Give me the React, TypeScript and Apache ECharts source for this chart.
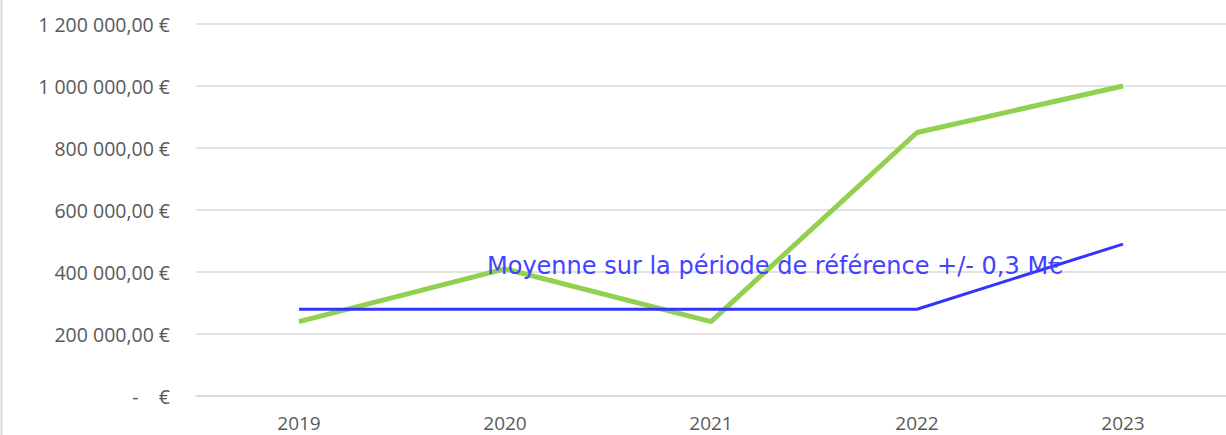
import React, { useEffect, useRef } from "react";
import * as echarts from "echarts";

const categories = ["2019", "2020", "2021", "2022", "2023"];
const actualValues = [240000, 410000, 240000, 850000, 1000000];
const referenceValues = [280000, 280000, 280000, 280000, 490000];
const yTicks = [0, 200000, 400000, 600000, 800000, 1000000, 1200000];
const annotation = "Moyenne sur la période de référence +/- 0,3 M€";

function formatEuro(v: number): string {
  if (v === 0) return "-    €";
  const s = Math.round(v).toString().replace(/\B(?=(\d{3})+(?!\d))/g, " ");
  return s + ",00 €";
}

export default function App() {
  const ref = useRef<HTMLDivElement>(null);
  useEffect(() => {
    if (!ref.current) return;
    const chart = echarts.init(ref.current, null, { renderer: "svg" });
    chart.setOption({
      animation: false,
      backgroundColor: "#ffffff",
      grid: { left: 196, width: 1034, top: 24, bottom: 39, containLabel: false },
      xAxis: {
        type: "category",
        data: categories,
        boundaryGap: true,
        axisLine: { show: true, lineStyle: { color: "#d9d9d9", width: 1.5 } },
        axisTick: { show: false },
        axisLabel: { color: "#595959", fontSize: 19, fontFamily: "Open Sans", margin: 17 },
      },
      yAxis: {
        type: "value",
        min: yTicks[0],
        max: yTicks[yTicks.length - 1],
        interval: 200000,
        axisLine: { show: false },
        axisTick: { show: false },
        splitLine: { lineStyle: { color: "#d9d9d9", width: 1.5 } },
        axisLabel: {
          color: "#595959",
          fontSize: 19.5,
          fontFamily: "Open Sans",
          margin: 26,
          formatter: (v: number) => formatEuro(v),
        },
      },
      graphic: [
        { type: "line", shape: { x1: 1.5, y1: 0, x2: 1.5, y2: 435 }, style: { stroke: "#d9d9d9", lineWidth: 2 } },
        {
          type: "text",
          x: 487,
          y: 266,
          style: {
            text: annotation,
            fill: "#4343ff",
            fontSize: 24,
            fontFamily: "DejaVu Sans",
            verticalAlign: "middle",
            align: "left",
          },
          z: 10,
        },
      ],
      series: [
        {
          type: "line",
          data: actualValues,
          symbol: "none",
          lineStyle: { color: "#92d050", width: 5 },
          z: 2,
        },
        {
          type: "line",
          data: referenceValues,
          symbol: "none",
          lineStyle: { color: "#3333ff", width: 3 },
          z: 3,
        },
      ],
    });
    return () => chart.dispose();
  }, []);
  return (
    <div
      ref={ref}
      style={{ position: "fixed", left: 0, top: 0, width: 1226, height: 435 }}
    />
  );
}
